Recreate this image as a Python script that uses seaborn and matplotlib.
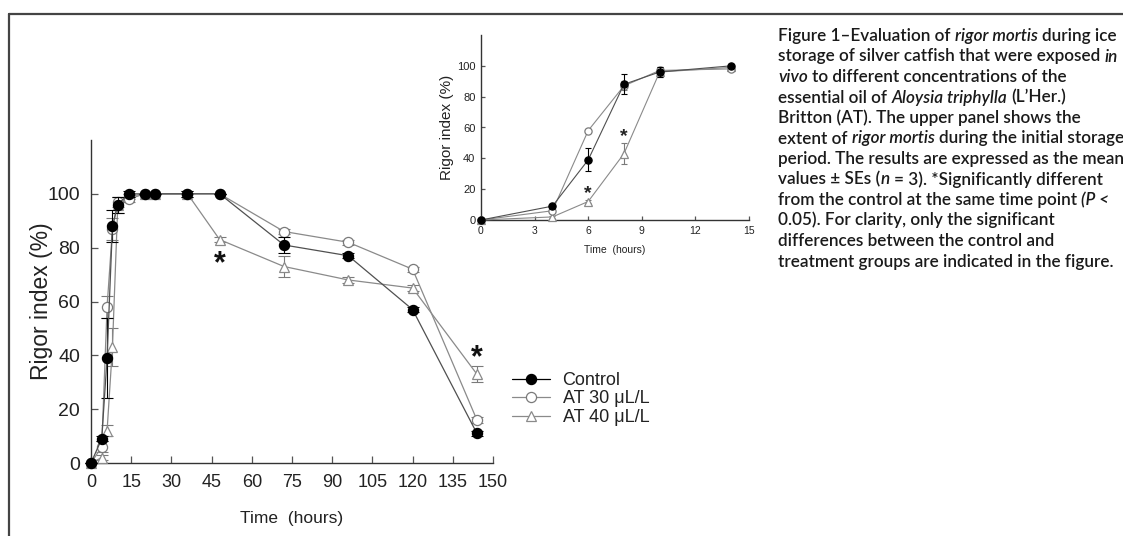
import matplotlib
matplotlib.use("Agg")
import matplotlib.pyplot as plt
from matplotlib.lines import Line2D
import pandas as pd
import seaborn as sns

# ---- data -------------------------------------------------------------
time_h = [0, 4, 6, 8, 10, 14, 20, 24, 36, 48, 72, 96, 120, 144]
control = [0, 9, 39, 88, 96, 100, 100, 100, 100, 100, 81, 77, 57, 11]
at30 = [0, 6, 58, 87, 97, 98, 100, 100, 100, 100, 86, 82, 72, 16]
at40 = [0, 2, 12, 43, 96, 99, 100, 100, 100, 83, 73, 68, 65, 33]

control_se = [0, 1, 15, 6, 3, 1, 0, 0, 1, 0, 3, 1, 1, 1]
at30_se = [0, 2, 4, 4, 2, 1, 0, 0, 0, 0, 1, 1, 1, 1]
at40_se = [0, 1, 2, 7, 3, 1, 0, 0, 1, 1, 4, 1, 1, 3]

# first storage period (0-14 h) shown in the small panel
inset_points = 6
inset_control_se = [0, 1, 7.5, 6.5, 3, 1]
inset_at30_se = [0, 1, 1, 3, 2, 1]
inset_at40_se = [0, 0.5, 1, 7, 3, 1]

group_labels = ["Control", "AT 30 \u03bcL/L", "AT 40 \u03bcL/L"]

main_xticks = list(range(0, 151, 15))
main_yticks = list(range(0, 101, 20))
inset_xticks = list(range(0, 16, 3))
inset_yticks = list(range(0, 101, 20))

# significance marks (time, height)
main_sig = [(48, 74), (144, 39)]
inset_sig = [(6, 17), (8, 54)]

caption_lines = [
    [("Figure 1\u2013Evaluation of ", False), ("rigor mortis", True), (" during ice", False)],
    [("storage of silver catfish that were exposed ", False), ("in", True)],
    [("vivo", True), (" to different concentrations of the", False)],
    [("essential oil of ", False), ("Aloysia triphylla", True), (" (L\u2019Her.)", False)],
    [("Britton (AT). The upper panel shows the", False)],
    [("extent of ", False), ("rigor mortis", True), (" during the initial storage", False)],
    [("period. The results are expressed as the mean", False)],
    [("values \u00b1 SEs (", False), ("n", True), (" = 3). *Significantly different", False)],
    [("from the control at the same time point ", False), ("(P <", True)],
    [("0.05). For clarity, only the significant", False)],
    [("differences between the control and", False)],
    [("treatment groups are indicated in the figure.", False)],
]

# ---- long-form table ----------------------------------------------------
frames = []
for lab, vals, se in zip(group_labels, [control, at30, at40],
                         [control_se, at30_se, at40_se]):
    frames.append(pd.DataFrame({"time": time_h, "rigor": vals, "se": se,
                                "group": lab}))
df = pd.concat(frames, ignore_index=True)

styles = {
    "Control": dict(marker="o", mfc="black", mec="black", line="#505050",
                    err="black", z=5),
    "AT 30 \u03bcL/L": dict(marker="o", mfc="white", mec="#7a7a7a",
                            line="#8a8a8a", err="#7a7a7a", z=4),
    "AT 40 \u03bcL/L": dict(marker="^", mfc="white", mec="#8a8a8a",
                            line="#8a8a8a", err="#7a7a7a", z=3),
}

W, H = 1123, 536
sns.set_theme(style="ticks")
plt.rcParams["font.family"] = ["Liberation Sans", "DejaVu Sans"]
fig = plt.figure(figsize=(W / 100, H / 100), dpi=100)
fig.patch.set_facecolor("white")

TXT = "#222222"


def style_axes(ax, xticks, yticks, xlim, ylim, tick_fs_x, tick_fs_y, pad, length):
    ax.set_xlim(*xlim)
    ax.set_ylim(*ylim)
    ax.set_xticks(xticks)
    ax.set_yticks(yticks)
    for s in ["top", "right"]:
        ax.spines[s].set_visible(False)
    for s in ["left", "bottom"]:
        ax.spines[s].set_color("#333333")
        ax.spines[s].set_linewidth(1.0)
    ax.tick_params(axis="both", direction="in", length=length, width=0.9,
                   color="#555555", pad=pad, labelcolor=TXT)
    ax.tick_params(axis="x", labelsize=tick_fs_x)
    ax.tick_params(axis="y", labelsize=tick_fs_y)
    ax.set_facecolor("white")
    ax.grid(False)


def draw_series(ax, data, se_col, msize, lw, capsize):
    for lab in reversed(group_labels):
        st = styles[lab]
        sub = data[data["group"] == lab]
        ax.errorbar(sub["time"], sub["rigor"], yerr=sub[se_col], fmt="none",
                    ecolor=st["err"], elinewidth=0.8, capsize=capsize,
                    capthick=0.8, zorder=st["z"] - 0.5, clip_on=False)
        sns.lineplot(data=sub, x="time", y="rigor", ax=ax, color=st["line"],
                     linewidth=lw, marker=st["marker"], markersize=msize,
                     markerfacecolor=st["mfc"], markeredgecolor=st["mec"],
                     markeredgewidth=0.9, errorbar=None, sort=False,
                     zorder=st["z"], clip_on=False, legend=False)


# ---- main panel ---------------------------------------------------------
ax = fig.add_axes([91 / W, 1 - 463 / H, (493 - 91) / W, (463 - 140) / H])
draw_series(ax, df, "se", 7.3, 0.9, 4)
style_axes(ax, main_xticks, main_yticks, (0, 150), (0, 120), 13, 14, 8, 5)
ax.set_xlabel("Time  (hours)", fontsize=12.5, color=TXT, labelpad=14)
ax.set_ylabel("Rigor index (%)", fontsize=16.5, color=TXT, labelpad=-4)
for tx, ty in main_sig:
    ax.text(tx, ty, "*", fontsize=22, fontweight="bold", ha="center",
            va="center", color="#111111")

handles = []
for lab in group_labels:
    st = styles[lab]
    handles.append(Line2D([], [], color="black" if lab == "Control" else st["line"],
                          lw=0.9, marker=st["marker"], markersize=7.3,
                          markerfacecolor=st["mfc"], markeredgecolor=st["mec"],
                          markeredgewidth=0.9))
fig.legend(handles, group_labels, loc="upper left",
           bbox_to_anchor=(512 / W, 1 - 372 / H), frameon=False,
           fontsize=13, handlelength=2.1, handletextpad=0.7,
           labelspacing=0.08, borderpad=0, borderaxespad=0, labelcolor=TXT)

# ---- inset panel (0-14 h) -----------------------------------------------
inset_df = df[df["time"] <= time_h[inset_points - 1]].copy()
inset_se_map = dict(zip(group_labels,
                        [inset_control_se, inset_at30_se, inset_at40_se]))
inset_df["se_in"] = [inset_se_map[g][i] for g, i in
                     zip(inset_df["group"],
                         inset_df.groupby("group").cumcount())]
axi = fig.add_axes([481 / W, 1 - 220 / H, (749 - 481) / W, (220 - 35) / H])
draw_series(axi, inset_df, "se_in", 5.2, 0.8, 2.5)
style_axes(axi, inset_xticks, inset_yticks, (0, 15), (0, 120), 7.5, 8, 4, 3)
axi.set_xlabel("Time  (hours)", fontsize=7.5, color=TXT, labelpad=7)
axi.set_ylabel("Rigor index (%)", fontsize=11, color=TXT, labelpad=2)
for tx, ty in inset_sig:
    axi.text(tx, ty, "*", fontsize=14, fontweight="bold", ha="center",
             va="center", color="#222222")

# ---- outer frame --------------------------------------------------------
fig.add_artist(Line2D([9 / W, 9 / W], [0, 1 - 14 / H], color="#444444", lw=1.6))
fig.add_artist(Line2D([9 / W, 1], [1 - 14 / H, 1 - 14 / H], color="#444444", lw=1.6))

# ---- caption ------------------------------------------------------------
renderer = fig.canvas.get_renderer()
cap_kw = dict(fontsize=12.3, family=["Lato", "DejaVu Sans"], color="#1a1a1a",
              fontweight="semibold")


def text_width(s, italic):
    t = fig.text(0, 0, s, style="italic" if italic else "normal", **cap_kw)
    w = t.get_window_extent(renderer).width
    t.remove()
    return w


space_w = text_width("x x", False) - text_width("xx", False)

x0, y0, step = 778, 41, 20.5
for i, line in enumerate(caption_lines):
    x = x0
    yb = y0 + i * step
    for seg, italic in line:
        lead = len(seg) - len(seg.lstrip(" "))
        trail = len(seg) - len(seg.rstrip(" "))
        core = seg.strip(" ")
        x += lead * space_w
        fig.text(x / W, 1 - yb / H, core, ha="left", va="baseline",
                 style="italic" if italic else "normal", **cap_kw)
        adv = (text_width("x" + core + "x", italic)
               - text_width("xx", italic))
        x += adv + trail * space_w

fig.savefig("out.png", dpi=100, facecolor="white")
